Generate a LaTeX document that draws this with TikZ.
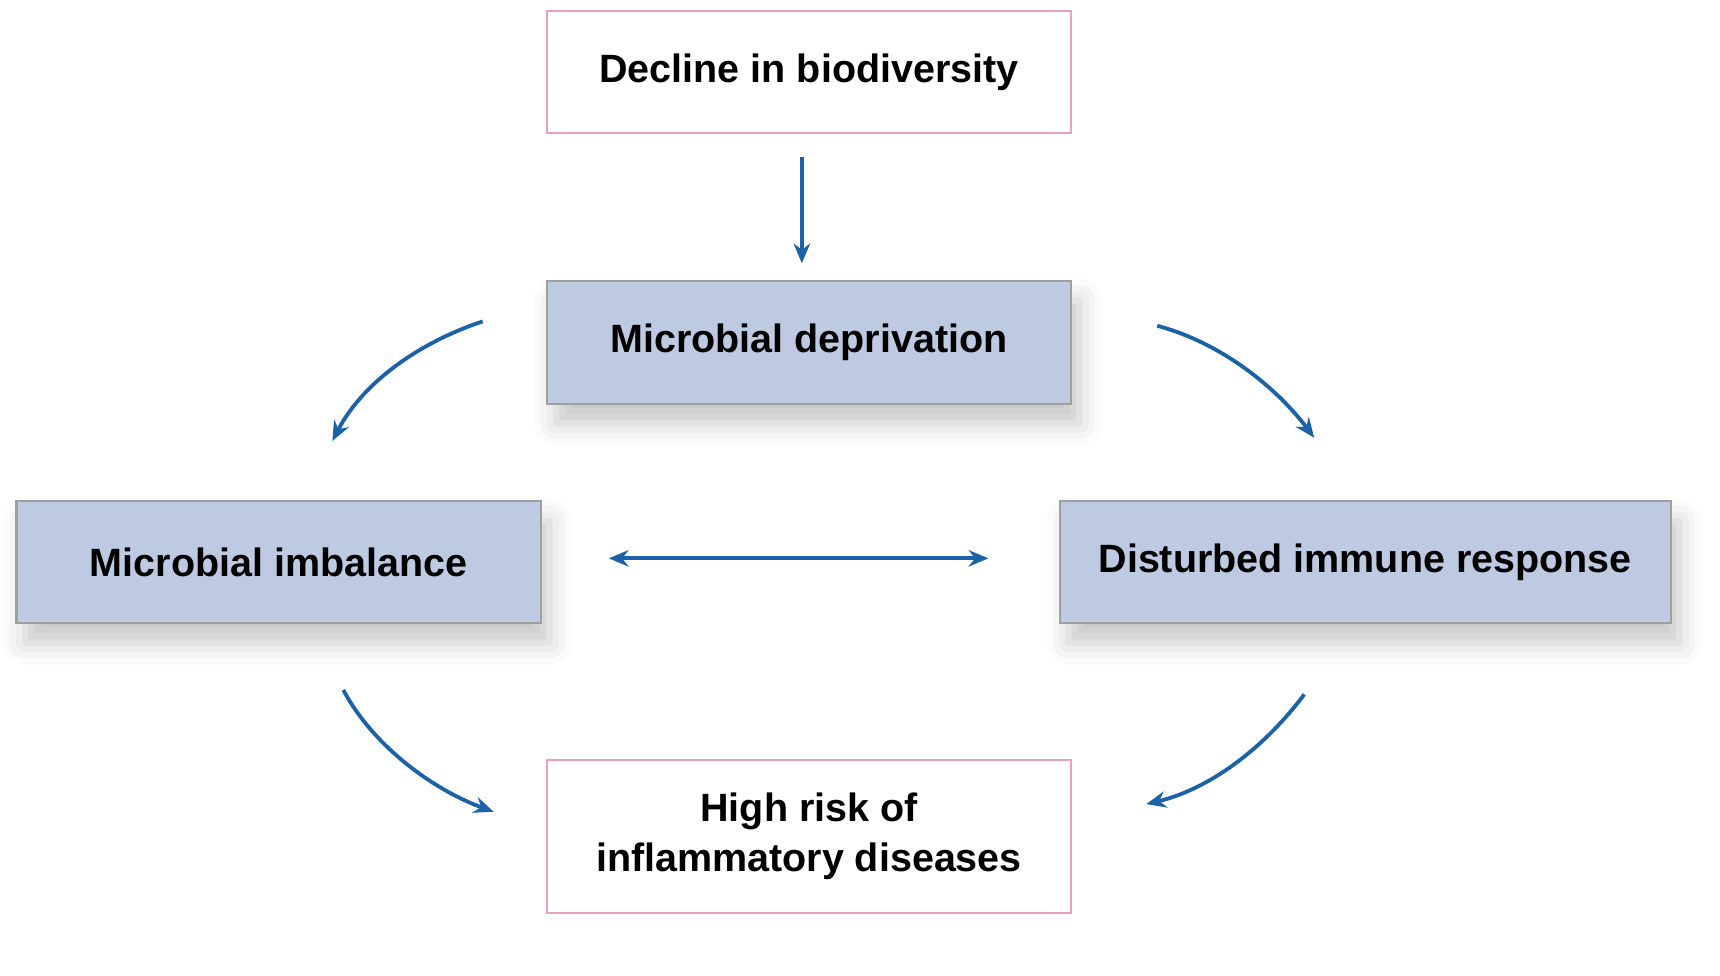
\documentclass[tikz,border=0pt]{standalone}
\usepackage{fontspec}
\setmainfont{Liberation Sans}
\usetikzlibrary{arrows.meta,shadows.blur}
\definecolor{boxfill}{RGB}{190,202,226}
\definecolor{pinkb}{RGB}{234,160,190}
\definecolor{arr}{RGB}{28,98,168}
\tikzset{
 pbox/.style={draw=pinkb,line width=2pt,fill=white,inner sep=0pt,font=\bfseries\fontsize{36}{46}\selectfont,align=center},
 bbox/.style={draw=gray!75,line width=2pt,fill=boxfill,inner sep=0pt,font=\bfseries\fontsize{36}{46}\selectfont,align=center,blur shadow={shadow xshift=8pt,shadow yshift=-18pt,shadow blur radius=20pt,shadow opacity=22}},
 conn/.style={draw=arr,line width=3.5pt,-{Stealth[length=18pt,width=15pt]}},
}
\begin{document}
\begin{tikzpicture}[x=1pt,y=-1pt]
\useasboundingbox (0,0) rectangle (1568,889);
\node[pbox,minimum width=477pt,minimum height=111pt] (top) at (737.5,65.5) {Decline in biodiversity};
\node[bbox,minimum width=477pt,minimum height=112pt] (dep) at (737.5,312) {Microbial deprivation};
\node[bbox,minimum width=478pt,minimum height=111pt] (imb) at (254,512.5) {Microbial imbalance};
\node[bbox,minimum width=557pt,minimum height=111pt] (dis) at (1244.5,512.5) {Disturbed immune response};
\node[pbox,minimum width=477pt,minimum height=139pt] (risk) at (737.5,762.5) {High risk of\\inflammatory diseases};
\coordinate (a1) at (731,143); \coordinate (a2) at (731,240);
\draw[conn] (a1) -- (a2);
\coordinate (l1) at (440,293); \coordinate (l2) at (303,402);
\draw[conn] (l1) .. controls (380,313) and (330,350) .. (l2);
\coordinate (r1) at (1055,297); \coordinate (r2) at (1198,399);
\draw[conn] (r1) .. controls (1115,313) and (1165,355) .. (r2);
\coordinate (m1) at (555,509); \coordinate (m2) at (901,509);
\draw[conn,{Stealth[length=18pt,width=15pt]}-{Stealth[length=18pt,width=15pt]}] (m1) -- (m2);
\coordinate (bl1) at (313,629); \coordinate (bl2) at (450,740);
\draw[conn] (bl1) .. controls (340,680) and (395,720) .. (bl2);
\coordinate (br1) at (1189,633); \coordinate (br2) at (1045,733);
\draw[conn] (br1) .. controls (1150,685) and (1100,720) .. (br2);
\end{tikzpicture}
\end{document}
